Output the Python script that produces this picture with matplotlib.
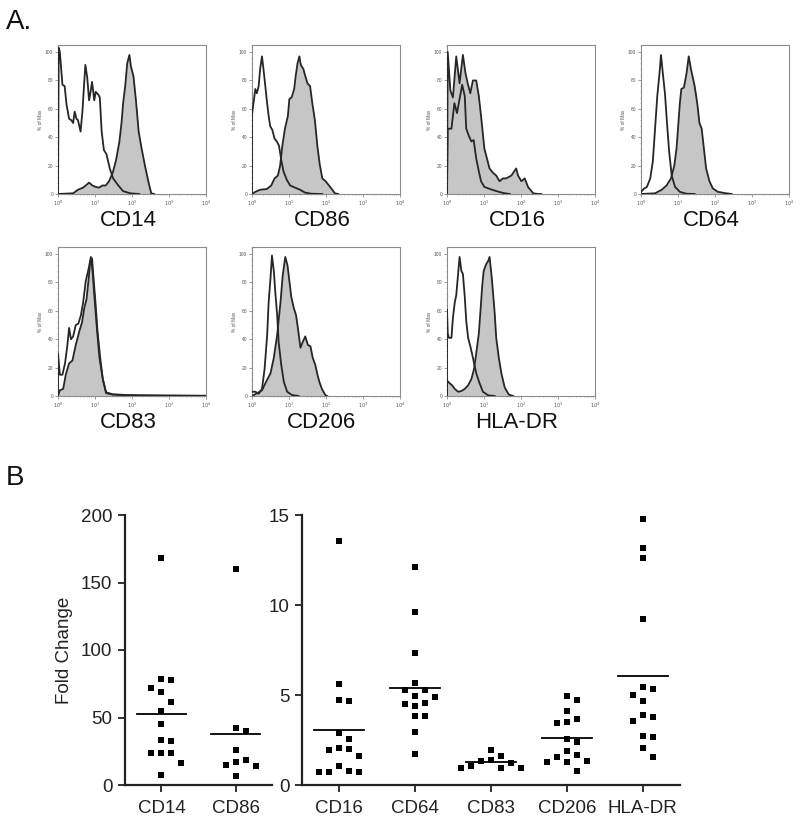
import numpy as np
import matplotlib
matplotlib.use("Agg")
import matplotlib.pyplot as plt
from matplotlib.ticker import FixedLocator, MultipleLocator, NullFormatter

plt.rcParams['font.family'] = ['Liberation Sans', 'DejaVu Sans']

# ---------------- Panel A data (x in log10 units, y in % of Max) ----------------
hist_names = ['CD14', 'CD86', 'CD16', 'CD64', 'CD83', 'CD206', 'HLA-DR']

cd14_open_x = [0.0, 0.02, 0.05, 0.12, 0.18, 0.23, 0.30, 0.36, 0.41, 0.45, 0.50, 0.54, 0.61, 0.66, 0.70, 0.74,
               0.79, 0.84, 0.88, 0.92, 0.98, 1.02, 1.09, 1.13, 1.18, 1.24, 1.31, 1.40, 1.49, 1.63, 1.76, 1.95, 2.2]
cd14_open_y = [0, 103, 100, 77, 76, 63, 53, 52, 50, 58, 53, 52, 44, 58, 75, 91,
               82, 66, 72, 79, 66, 72, 70, 68, 44, 31, 28, 18, 11, 6, 2, 0.5, 0]
cd14_fill_x = [0.0, 0.41, 0.54, 0.68, 0.84, 0.93, 1.02, 1.11, 1.20, 1.29, 1.38, 1.48, 1.57, 1.66, 1.72,
               1.76, 1.82, 1.87, 1.93, 1.97, 2.04, 2.11, 2.18, 2.26, 2.35, 2.44, 2.52, 2.6]
cd14_fill_y = [0, 0.5, 3, 4.5, 8, 6, 5, 4.5, 6, 6, 9, 15, 24, 37, 51,
               64, 77, 92, 98, 90, 83, 65, 44, 32, 20, 9, 0.5, 0]

cd86_open_x = [0.0, 0.0, 0.04, 0.09, 0.13, 0.18, 0.22, 0.27, 0.31, 0.36, 0.40, 0.45, 0.49, 0.55, 0.61, 0.67,
               0.73, 0.79, 0.85, 0.94, 1.03, 1.16, 1.30, 1.43, 1.61, 1.9]
cd86_open_y = [0, 56, 64, 74, 71, 76, 88, 97, 88, 76, 66, 55, 48, 45, 39, 37,
               34, 24, 16, 10, 6, 4.5, 3, 1, 0.2, 0]
cd86_fill_x = [0.0, 0.09, 0.22, 0.40, 0.52, 0.61, 0.70, 0.76, 0.82, 0.89, 0.97, 1.01, 1.07, 1.14, 1.18,
               1.23, 1.28, 1.32, 1.39, 1.43, 1.50, 1.57, 1.63, 1.70, 1.77, 1.83, 1.90, 1.99, 2.08, 2.17,
               2.24, 2.33]
cd86_fill_y = [0, 1.5, 3, 3.5, 6, 11, 13, 20, 34, 46, 55, 67, 68, 74, 83,
               92, 97, 91, 88, 84, 78, 76, 64, 52, 33, 21, 11, 9, 6, 3,
               0.5, 0]

cd16_open_x = [0.0, 0.02, 0.12, 0.20, 0.27, 0.34, 0.41, 0.48, 0.52, 0.59, 0.66, 0.72, 0.79, 0.86, 0.92,
               1.01, 1.16, 1.34, 1.52, 1.7]
cd16_open_y = [0, 46, 46, 64, 57, 67, 77, 69, 46, 41, 37, 38, 25, 16, 9,
               5, 3.5, 2, 0.7, 0]
cd16_fill_x = [0.0, 0.02, 0.09, 0.16, 0.25, 0.34, 0.43, 0.50, 0.56, 0.63, 0.70, 0.79, 0.86, 0.92, 1.01,
               1.15, 1.24, 1.33, 1.42, 1.51, 1.60, 1.74, 1.87, 1.92, 2.01, 2.10, 2.19, 2.33, 2.46, 2.55]
cd16_fill_y = [0, 100, 73, 68, 97, 78, 98, 85, 78, 71, 80, 80, 69, 55, 32,
               18, 15, 13, 9, 11, 11, 13, 18, 13, 9, 11, 5, 0.5, 0, 0]

cd64_open_x = [0.0, 0.07, 0.16, 0.25, 0.32, 0.38, 0.44, 0.50, 0.54, 0.59, 0.65, 0.70, 0.76, 0.83, 0.92,
               1.05, 1.23, 1.45]
cd64_open_y = [1.5, 3.5, 5, 11, 23, 46, 69, 85, 98, 85, 70, 51, 30, 13, 5,
               1.5, 0.2, 0]
cd64_fill_x = [0.0, 0.38, 0.56, 0.69, 0.81, 0.90, 0.96, 1.00, 1.05, 1.09, 1.16, 1.23, 1.29, 1.35, 1.41,
               1.45, 1.52, 1.58, 1.64, 1.70, 1.76, 1.85, 1.94, 2.07, 2.25, 2.45]
cd64_fill_y = [0, 0.5, 3, 6, 11, 20, 32, 46, 64, 74, 75, 85, 97, 88, 81,
               76, 64, 50, 46, 32, 18, 9, 4, 1.6, 0.7, 0]

cd83_open_x = [0.0, 0.0, 0.05, 0.12, 0.19, 0.25, 0.30, 0.35, 0.41, 0.48, 0.55, 0.62, 0.68, 0.75, 0.83,
               0.89, 0.94, 0.98, 1.05, 1.12, 1.21, 1.30, 1.48, 1.85, 2.66, 4.0]
cd83_open_y = [0, 30, 15, 15, 23, 35, 48, 40, 42, 50, 51, 57, 66, 81, 90,
               98, 86, 71, 48, 27, 12, 2.6, 1.2, 0.7, 0.5, 0.2]
cd83_fill_x = [0.0, 0.05, 0.14, 0.21, 0.30, 0.39, 0.48, 0.57, 0.65, 0.71, 0.77, 0.83, 0.87, 0.92, 0.96,
               1.01, 1.07, 1.14, 1.21, 1.30, 1.48, 1.85, 2.2]
cd83_fill_y = [0, 4, 5, 15, 23, 25, 36, 45, 52, 62, 68, 83, 95, 97, 83,
               67, 45, 27, 12, 2, 1, 0.5, 0]

cd206_open_x = [0.0, 0.09, 0.18, 0.27, 0.34, 0.41, 0.45, 0.50, 0.54, 0.59, 0.63, 0.68, 0.72, 0.79, 0.86,
                0.95, 1.08, 1.26]
cd206_open_y = [3, 3, 1.6, 5, 19, 43, 66, 83, 99, 88, 73, 57, 38, 22, 10,
                3, 0.7, 0]
cd206_fill_x = [0.0, 0.14, 0.27, 0.38, 0.50, 0.59, 0.68, 0.77, 0.83, 0.90, 0.96, 1.02, 1.06, 1.13, 1.19,
                1.24, 1.31, 1.37, 1.44, 1.51, 1.58, 1.64, 1.71, 1.76, 1.82, 1.89, 1.98, 2.03]
cd206_fill_y = [0, 2, 4, 10, 16, 27, 43, 66, 85, 98, 92, 79, 70, 62, 57,
                48, 34, 38, 42, 36, 35, 27, 22, 16, 10, 5, 0.7, 0]

hladr_open_x = [0.0, 0.0, 0.02, 0.05, 0.12, 0.16, 0.21, 0.25, 0.30, 0.34, 0.39, 0.43, 0.48, 0.52, 0.57,
                0.64, 0.70, 0.79, 0.88, 0.97, 1.11, 1.29]
hladr_open_y = [0, 61, 44, 41, 41, 55, 66, 71, 86, 98, 88, 86, 70, 53, 41,
                34, 27, 16, 9, 3, 0.5, 0]
hladr_fill_x = [0.0, 0.0, 0.07, 0.14, 0.21, 0.30, 0.39, 0.48, 0.57, 0.66, 0.73, 0.79, 0.86, 0.91, 0.95,
                0.99, 1.06, 1.11, 1.15, 1.20, 1.24, 1.29, 1.33, 1.40, 1.47, 1.56, 1.67, 1.79]
hladr_fill_y = [0, 11, 9, 7.5, 5, 3, 3.5, 5, 7.5, 12, 19, 30, 44, 62, 77,
                88, 93, 95, 98, 86, 74, 58, 41, 27, 16, 6, 1, 0]

hist_data = {
    'CD14': (cd14_open_x, cd14_open_y, cd14_fill_x, cd14_fill_y),
    'CD86': (cd86_open_x, cd86_open_y, cd86_fill_x, cd86_fill_y),
    'CD16': (cd16_open_x, cd16_open_y, cd16_fill_x, cd16_fill_y),
    'CD64': (cd64_open_x, cd64_open_y, cd64_fill_x, cd64_fill_y),
    'CD83': (cd83_open_x, cd83_open_y, cd83_fill_x, cd83_fill_y),
    'CD206': (cd206_open_x, cd206_open_y, cd206_fill_x, cd206_fill_y),
    'HLA-DR': (hladr_open_x, hladr_open_y, hladr_fill_x, hladr_fill_y),
}
hist_yticks = [0, 20, 40, 60, 80, 100]
hist_xticks_exp = [0, 1, 2, 3, 4]

# ---------------- Panel B data (fold change) ----------------
left_cats = ['CD14', 'CD86']
right_cats = ['CD16', 'CD64', 'CD83', 'CD206', 'HLA-DR']
cd14_fold = [167.9, 78.5, 77.8, 72.0, 68.6, 61.5, 54.6, 45.0, 33.3, 32.8, 23.5, 23.5, 23.5, 16.5, 7.2]
cd86_fold = [159.8, 42.5, 39.8, 25.9, 18.5, 16.8, 14.8, 14.3, 6.7]
cd16_fold = [13.58, 5.59, 4.73, 4.67, 2.90, 2.56, 2.04, 1.99, 1.96, 1.59, 1.03, 0.80, 0.75, 0.73, 0.73]
cd64_fold = [12.13, 9.62, 7.34, 5.64, 5.29, 5.29, 4.95, 4.90, 4.54, 4.50, 4.39, 3.86, 3.83, 2.95, 1.74]
cd83_fold = [1.96, 1.59, 1.40, 1.31, 1.25, 1.08, 0.97, 0.97, 0.95]
cd206_fold = [4.95, 4.71, 4.09, 3.64, 3.48, 3.42, 2.56, 2.39, 1.87, 1.66, 1.53, 1.35, 1.29, 1.29, 0.80]
hladr_fold = [14.78, 13.17, 12.61, 9.25, 5.46, 5.33, 5.01, 4.65, 3.89, 3.76, 3.55, 2.73, 2.65, 2.07, 1.55]
left_values = [cd14_fold, cd86_fold]
right_values = [cd16_fold, cd64_fold, cd83_fold, cd206_fold, hladr_fold]
left_yticks = [0, 50, 100, 150, 200]
right_yticks = [0, 5, 10, 15]

# ---------------- Figure ----------------
W, H = 800, 826
fig = plt.figure(figsize=(W / 100, H / 100), dpi=100)


def ax_px(l, t, r, b):
    return fig.add_axes([l / W, 1 - b / H, (r - l) / W, (b - t) / H])


line_col = '#262626'
fill_col = '#c6c6c6'
frame_col = '#8c8c8c'

col_lefts = [58, 252, 447, 641]
box_w = 148
rows = [(45, 194), (247, 396)]
positions = [(0, 0), (0, 1), (0, 2), (0, 3), (1, 0), (1, 1), (1, 2)]

for name, (r, c) in zip(hist_names, positions):
    top, bot = rows[r]
    l = col_lefts[c]
    ax = ax_px(l, top, l + box_w, bot)
    ox, oy, fx, fy = hist_data[name]
    ox = 10 ** np.asarray(ox)
    fx = 10 ** np.asarray(fx)
    ax.fill_between(fx, fy, 0, color=fill_col, lw=0, zorder=1)
    ax.plot(fx, fy, color=line_col, lw=1.3, zorder=3)
    ax.plot(ox, oy, color=line_col, lw=1.3, zorder=3)
    ax.set_xscale('log')
    ax.set_xlim(1, 1e4)
    ax.set_ylim(0, 105)
    ax.xaxis.set_major_locator(FixedLocator([10.0 ** e for e in hist_xticks_exp]))
    ax.set_xticklabels([r'$10^{%d}$' % e for e in hist_xticks_exp])
    ax.xaxis.set_minor_locator(FixedLocator([m * 10.0 ** e for e in range(4) for m in range(2, 10)]))
    ax.xaxis.set_minor_formatter(NullFormatter())
    ax.set_yticks(hist_yticks)
    ax.set_yticklabels([str(v) for v in hist_yticks])
    ax.yaxis.set_minor_locator(MultipleLocator(4))
    ax.tick_params(which='major', length=2, width=0.6, colors=frame_col, labelsize=3.5, pad=1.5,
                   labelcolor='#555555')
    ax.tick_params(which='minor', length=1, width=0.4, colors=frame_col)
    for s in ax.spines.values():
        s.set_color(frame_col)
        s.set_linewidth(0.8)
    ax.set_ylabel('% of Max', fontsize=3.5, color='#555555', labelpad=1.5)
    fig.text((l + box_w / 2 - 4) / W, 1 - (bot + 26) / H, name, fontsize=16,
             ha='center', va='center', color='#111111')

fig.text(6 / W, 1 - 22 / H, 'A.', fontsize=20, ha='left', va='center', color='#111111')
fig.text(6 / W, 1 - 478 / H, 'B', fontsize=20, ha='left', va='center', color='#111111')


# ---------------- Panel B ----------------
def swarm_positions(ax, vals, xc, step_px=10.0, coll_x=9.0, coll_y=10.0):
    vals = np.asarray(vals, dtype=float)
    trans = ax.transData
    inv = trans.inverted()
    order = np.argsort(-vals, kind='stable')
    placed = []
    xs = np.zeros(len(vals))
    for i in order:
        x0, y0 = trans.transform((xc, vals[i]))
        chosen = x0
        for k in [0, 1, -1, 2, -2, 3, -3, 4, -4]:
            xd = x0 + k * step_px
            if all(abs(xd - px) >= coll_x or abs(y0 - py) >= coll_y for px, py in placed):
                chosen = xd
                break
        placed.append((chosen, y0))
        xs[i] = inv.transform((chosen, y0))[0]
    return xs


def draw_dot_panel(ax, cats, values, ylim, yticks):
    n = len(cats)
    ax.set_xlim(-0.49, n - 1 + 0.49)
    ax.set_ylim(*ylim)
    for i, vals in enumerate(values):
        xs = swarm_positions(ax, vals, i)
        ax.plot(xs, vals, 's', color='black', ms=5, mec='black', mew=0, clip_on=False, zorder=3)
        m = np.mean(vals)
        ax.plot([i - 0.33, i + 0.33], [m, m], color='black', lw=1.3, zorder=2)
    ax.set_xticks(range(n))
    ax.set_xticklabels(cats)
    ax.set_yticks(yticks)
    ax.tick_params(axis='both', length=5, width=1.3, labelsize=13.5, color='#222222',
                   labelcolor='#222222', pad=4)
    ax.tick_params(axis='x', pad=6)
    for s in ['top', 'right']:
        ax.spines[s].set_visible(False)
    for s in ['left', 'bottom']:
        ax.spines[s].set_linewidth(1.6)
        ax.spines[s].set_color('#222222')


axl = ax_px(125, 515, 272, 785)
draw_dot_panel(axl, left_cats, left_values, (0, 200), left_yticks)
axl.set_ylabel('Fold Change', fontsize=13.5, color='#222222', labelpad=6)

axr = ax_px(302, 515, 680, 785)
draw_dot_panel(axr, right_cats, right_values, (0, 15), right_yticks)

fig.savefig('out.png', dpi=100, facecolor='white')
